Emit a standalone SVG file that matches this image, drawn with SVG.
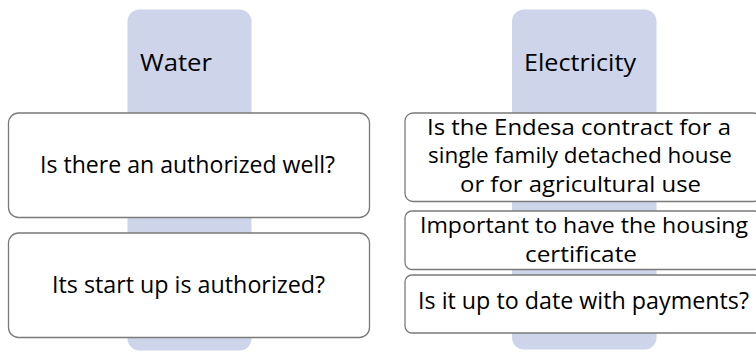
<svg xmlns="http://www.w3.org/2000/svg" width="756" height="354" viewBox="0 0 756 354">
<style>
.col{fill:#CED5EA;stroke:none}
.box{fill:#FFFFFF;stroke:#7A7A7A;stroke-width:1.3}
text{font-family:"Open Sans","Noto Sans","DejaVu Sans",sans-serif;font-size:23px;fill:#000000}
.c{text-anchor:middle}
.m{font-size:21px}
</style>
<rect width="756" height="354" fill="#FFFFFF"/>
<g id="col-water">
<rect class="col" x="127.5" y="9.5" width="124" height="341" rx="12"/>
<text x="140" y="71" textLength="72" lengthAdjust="spacingAndGlyphs">Water</text>
</g>
<g id="col-electricity">
<rect class="col" x="512" y="9.5" width="144.5" height="340" rx="12"/>
<text x="580" y="71" class="c" textLength="112" lengthAdjust="spacingAndGlyphs">Electricity</text>
</g>
<g id="connectors"></g>
<g id="box-well">
<rect class="box" x="8.5" y="113" width="361" height="104.5" rx="10"/>
<text x="187.5" y="173" class="c" textLength="295" lengthAdjust="spacingAndGlyphs">Is there an authorized well?</text>
</g>
<g id="box-startup">
<rect class="box" x="8.5" y="233" width="361" height="104.5" rx="10"/>
<text x="188.5" y="293" class="c" textLength="273" lengthAdjust="spacingAndGlyphs">Its start up is authorized?</text>
</g>
<g id="box-endesa">
<rect class="box" x="405" y="113" width="356" height="88.5" rx="8"/>
<text x="579" y="134.5" class="c m" textLength="304" lengthAdjust="spacingAndGlyphs">Is the Endesa contract for a</text>
<text x="580" y="163" class="c m" textLength="304" lengthAdjust="spacingAndGlyphs">single family detached house</text>
<text x="580.5" y="191.5" class="c m" textLength="241" lengthAdjust="spacingAndGlyphs">or for agricultural use</text>
</g>
<g id="box-certificate">
<rect class="box" x="405" y="211" width="356" height="58.5" rx="7"/>
<text x="584" y="233" class="c m" textLength="328" lengthAdjust="spacingAndGlyphs">Important to have the housing</text>
<text x="581" y="261.5" class="c m" textLength="112" lengthAdjust="spacingAndGlyphs">certificate</text>
</g>
<g id="box-payments">
<rect class="box" x="405" y="275" width="356" height="58" rx="7"/>
<text x="583.5" y="309" class="c" textLength="331" lengthAdjust="spacingAndGlyphs">Is it up to date with payments?</text>
</g>
</svg>
